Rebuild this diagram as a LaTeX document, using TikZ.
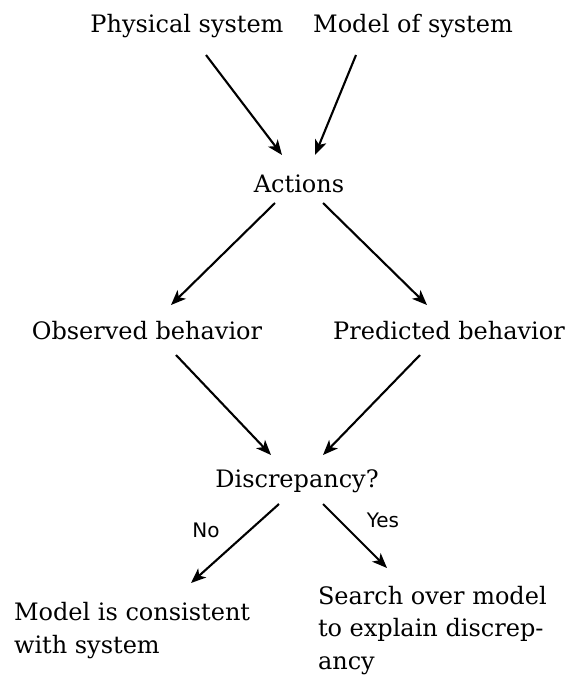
\documentclass[tikz,border=0pt]{standalone}
\usepackage{fontspec}
\setmainfont{DejaVu Serif}
\newfontfamily\labelfont{DejaVu Sans}
\usetikzlibrary{arrows.meta}
\begin{document}
\begin{tikzpicture}[x=1pt,y=1pt,
  every node/.style={inner sep=0pt, outer sep=0pt},
  box/.style={anchor=base, font=\fontsize{24}{32.5}\selectfont},
  multi/.style={anchor=base west, align=left, font=\fontsize{24}{32.5}\selectfont},
  answer/.style={anchor=base, font=\labelfont\fontsize{20}{22}\selectfont},
  flow/.style={-{Stealth[length=15pt,width=12pt,inset=4pt]}, line width=2.1pt}]
\useasboundingbox (0,0) rectangle (565,-679);

\node[box] (phys) at (187,-33) {Physical system};
\node[box] (model) at (413,-33) {Model of system};
\node[box] (act) at (299,-192) {Actions};
\node[box] (obs) at (147,-339) {Observed behavior};
\node[box] (pred) at (449,-339) {Predicted behavior};
\node[box] (disc) at (297,-487) {Discrepancy?};
% base anchor of a multi-line node sits on its last line
\node[multi] (cons) at (14,-653) {Model is consistent\\with system};
\node[multi] (search) at (318,-669) {Search over model\\to explain discrep-\\ancy};
\node[answer] (no) at (206,-537) {No};
\node[answer] (yes) at (383,-527) {Yes};

\draw[flow] ([shift={(19,-22)}]phys.base) -- ([shift={(-17,37)}]act.base);
\draw[flow] ([shift={(-57,-22)}]model.base) -- ([shift={(16,37)}]act.base);
\draw[flow] ([shift={(-24,-11)}]act.base) -- ([shift={(24,34)}]obs.base);
\draw[flow] ([shift={(24,-11)}]act.base) -- ([shift={(-22,34)}]pred.base);
\draw[flow] ([shift={(29,-16)}]obs.base) -- ([shift={(-26,32)}]disc.base);
\draw[flow] ([shift={(-29,-16)}]pred.base) -- ([shift={(26,32)}]disc.base);
\draw[flow] ([shift={(-18,-17)}]disc.base) -- ([shift={(177,70)}]cons.base west);
\draw[flow] ([shift={(26,-17)}]disc.base) -- ([shift={(69,101)}]search.base west);
\end{tikzpicture}
\end{document}
